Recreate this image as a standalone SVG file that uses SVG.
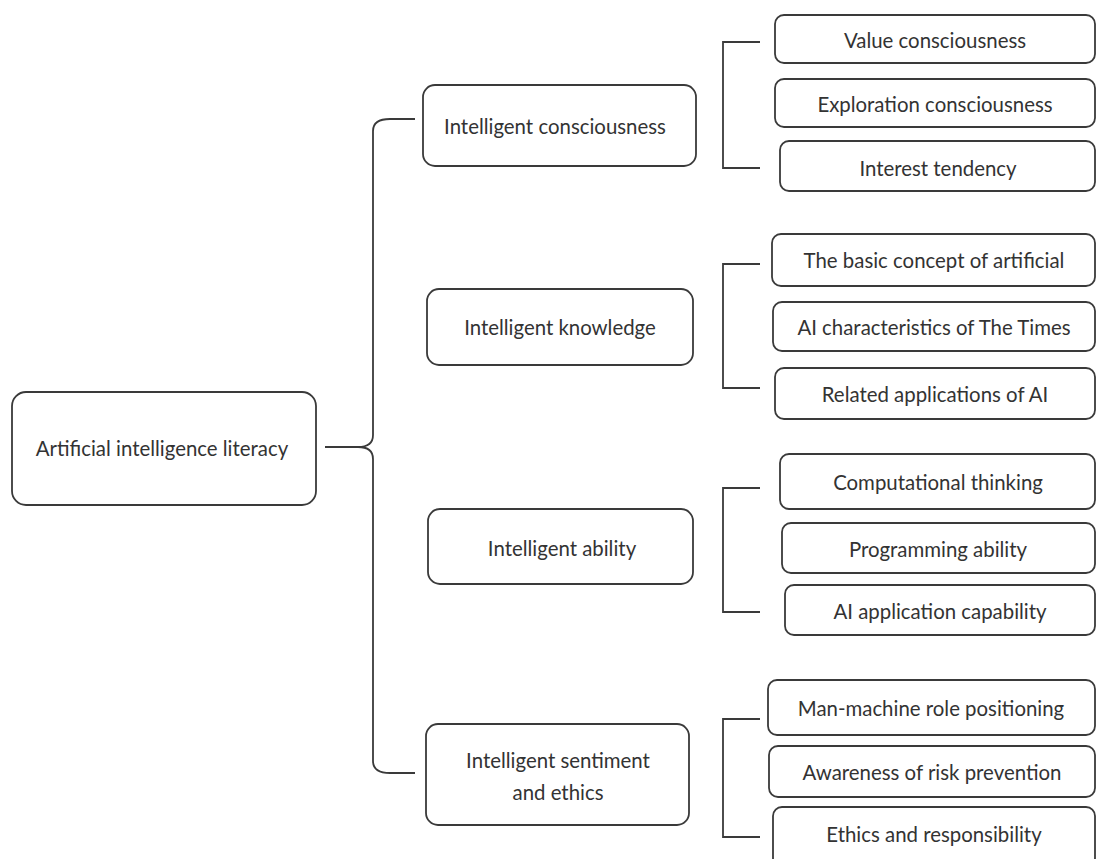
<svg xmlns="http://www.w3.org/2000/svg" width="1097" height="859" viewBox="0 0 1097 859">
<style>
.box{fill:#fff;stroke:#3a3a3a;stroke-width:1.8}
.t{font-family:Lato,"Open Sans",sans-serif;font-size:20.4px;fill:#333;text-anchor:middle;dominant-baseline:central}
.c{fill:none;stroke:#3a3a3a;stroke-width:1.8}
</style>
<rect width="1097" height="859" fill="#fff"/>
<g id="connectors">
<path class="c" d="M325 447 L358 447 Q373 447 373 435 L373 131 Q373 119 390 119 L415 119"/>
<path class="c" d="M358 447 Q373 447 373 459 L373 761 Q373 773 390 773 L415 773"/>
<path class="c" d="M760 42 L723 42 L723 168 L760 168"/>
<path class="c" d="M760 264 L723 264 L723 388 L760 388"/>
<path class="c" d="M760 488 L723 488 L723 612 L760 612"/>
<path class="c" d="M760 719 L723 719 L723 837 L760 837"/>
</g>
<g id="root"><rect class="box" x="12" y="392" width="304" height="113" rx="14"/><text class="t" x="162" y="448">Artificial intelligence literacy</text></g>
<g id="n1"><rect class="box" x="423" y="85" width="273" height="81" rx="12"/><text class="t" x="555" y="126">Intelligent consciousness</text></g>
<g id="n2"><rect class="box" x="427" y="289" width="266" height="76" rx="12"/><text class="t" x="560" y="327">Intelligent knowledge</text></g>
<g id="n3"><rect class="box" x="428" y="509" width="265" height="75" rx="12"/><text class="t" x="562" y="548">Intelligent ability</text></g>
<g id="n4"><rect class="box" x="426" y="724" width="263" height="101" rx="12"/><text class="t" x="558" y="760">Intelligent sentiment</text><text class="t" x="558" y="792">and ethics</text></g>
<g id="n1a"><rect class="box" x="775" y="15" width="320" height="48" rx="9"/><text class="t" x="935" y="40">Value consciousness</text></g>
<g id="n1b"><rect class="box" x="775" y="79" width="320" height="48" rx="9"/><text class="t" x="935" y="104">Exploration consciousness</text></g>
<g id="n1c"><rect class="box" x="780" y="141" width="315" height="50" rx="9"/><text class="t" x="938" y="168">Interest tendency</text></g>
<g id="n2a"><rect class="box" x="772" y="234" width="323" height="52" rx="9"/><text class="t" x="934" y="260">The basic concept of artificial</text></g>
<g id="n2b"><rect class="box" x="773" y="302" width="322" height="49" rx="9"/><text class="t" x="934" y="327">AI characteristics of The Times</text></g>
<g id="n2c"><rect class="box" x="775" y="368" width="320" height="51" rx="9"/><text class="t" x="935" y="394">Related applications of AI</text></g>
<g id="n3a"><rect class="box" x="780" y="454" width="315" height="55" rx="9"/><text class="t" x="938" y="482">Computational thinking</text></g>
<g id="n3b"><rect class="box" x="782" y="523" width="313" height="50" rx="9"/><text class="t" x="938" y="549">Programming ability</text></g>
<g id="n3c"><rect class="box" x="785" y="585" width="310" height="50" rx="9"/><text class="t" x="940" y="611">AI application capability</text></g>
<g id="n4a"><rect class="box" x="768" y="680" width="327" height="55" rx="9"/><text class="t" x="931" y="708">Man-machine role positioning</text></g>
<g id="n4b"><rect class="box" x="769" y="746" width="326" height="51" rx="9"/><text class="t" x="932" y="772">Awareness of risk prevention</text></g>
<g id="n4c"><rect class="box" x="773" y="807" width="322" height="60" rx="9"/><text class="t" x="934" y="834">Ethics and responsibility</text></g>
</svg>
